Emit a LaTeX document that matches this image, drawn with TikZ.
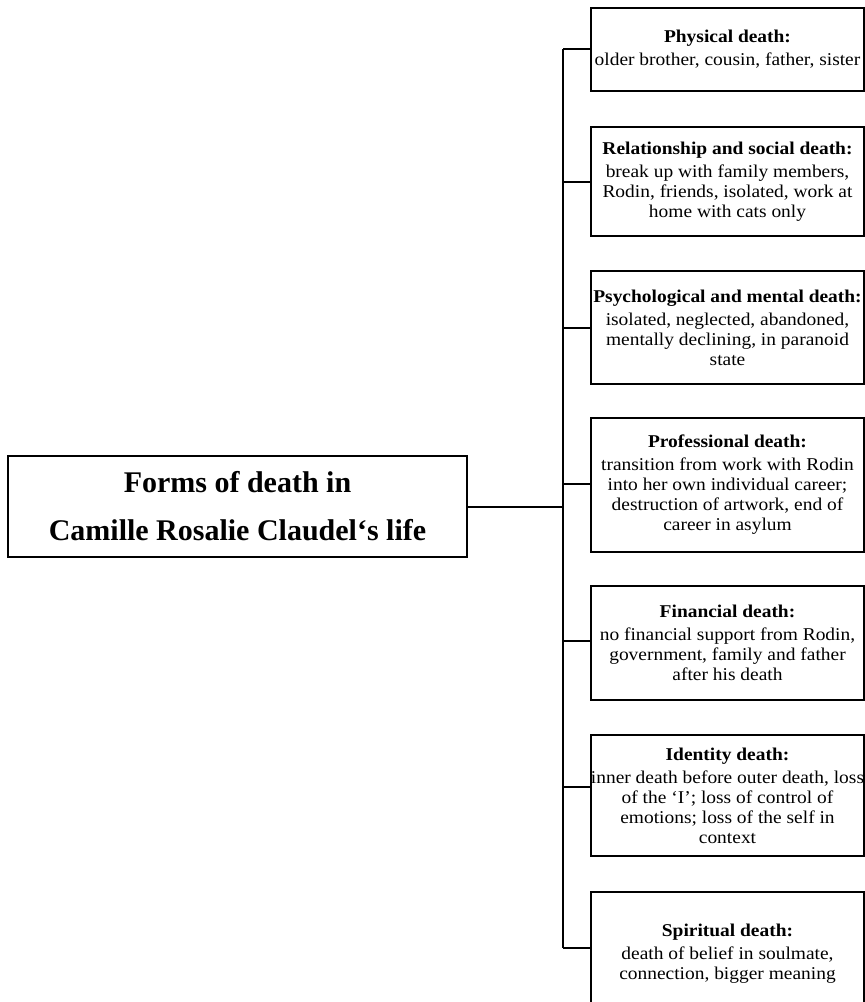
\documentclass[tikz,border=0pt]{standalone}
\usepackage{fontspec}
\setmainfont{Liberation Serif}
\newfontfamily\boxfont{Liberation Serif}[FakeStretch=1.08]
\begin{document}
\begin{tikzpicture}[x=1pt,y=-1pt,
  line/.style={line width=1.4pt,black},
  mainbox/.style={draw,line width=1.4pt,minimum width=459pt,minimum height=101pt,inner sep=0pt,
     align=center,font=\fontsize{30}{48}\selectfont\bfseries},
  sidebox/.style={draw,line width=1.4pt,minimum width=273pt,inner sep=0pt,
     align=center,font=\boxfont\fontsize{18}{20}\selectfont}]
\useasboundingbox (0,0) rectangle (865,1002);
\node[mainbox] (main) at (237.5,506.5) {Forms of death in\\Camille Rosalie Claudel{\char"60}s life};
\node[sidebox,minimum height=83pt] (b1) at (727.5,49.5)
  {\textbf{Physical death:}\\[3pt]older brother, cousin, father, sister};
\node[sidebox,minimum height=109pt] (b2) at (727.5,181.5)
  {\textbf{Relationship and social death:}\\[3pt]break up with family members,\\Rodin, friends, isolated, work at\\home with cats only};
\node[sidebox,minimum height=113pt] (b3) at (727.5,327.5)
  {\textbf{Psychological and mental death:}\\[3pt]isolated, neglected, abandoned,\\mentally declining, in paranoid\\state};
\node[sidebox,minimum height=134pt] (b4) at (727.5,485)
  {\textbf{Professional death:}\\[3pt]transition from work with Rodin\\into her own individual career;\\destruction of artwork, end of\\career in asylum};
\node[sidebox,minimum height=114pt] (b5) at (727.5,643)
  {\textbf{Financial death:}\\[3pt]no financial support from Rodin,\\government, family and father\\after his death};
\node[sidebox,minimum height=121pt] (b6) at (727.5,795.5)
  {\textbf{Identity death:}\\[3pt]inner death before outer death, loss\\of the ‘I’; loss of control of\\emotions; loss of the self in\\context};
\node[sidebox,minimum height=123pt] (b7) at (727.5,953.5)
  {\textbf{Spiritual death:}\\[3pt]death of belief in soulmate,\\connection, bigger meaning};
\coordinate (top) at (563,49);
\coordinate (bot) at (563,948);
\coordinate (hub) at (563,507);
\draw[line] (top) -- (bot);
\draw[line] (main.east |- hub) -- (hub);
\foreach \n/\y in {b1/49,b2/182,b3/328,b4/484,b5/641,b6/787,b7/948}{
  \coordinate (c\n) at (563,\y);
  \draw[line] (c\n) -- (c\n -| \n.west);
}
\end{tikzpicture}
\end{document}
